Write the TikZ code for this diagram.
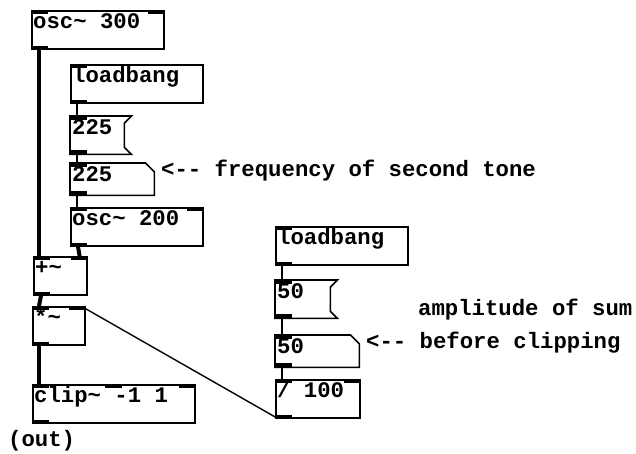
\documentclass[tikz,border=0pt]{standalone}
\usepackage{fontspec}
\setmonofont{Liberation Mono}
\usetikzlibrary{calc}
\definecolor{inkCol}{HTML}{000000}
\definecolor{paperCol}{HTML}{FFFFFF}
\newcommand{\pdfont}{\ttfamily\bfseries\fontsize{22.3}{26}\selectfont}

\begin{document}
\begin{tikzpicture}[
    x=1pt, y=-1pt,
    pdbox/.style={draw=inkCol, line width=1.6pt, anchor=north west, inner sep=0pt, minimum height=38},
    pdhide/.style={anchor=north west, inner sep=0pt, minimum height=38},
    pdline/.style={draw=inkCol, line width=1.6pt, line join=miter},
    pdtext/.style={anchor=base west, inner sep=0pt, font=\pdfont, text=inkCol, xshift=2pt, yshift=-18.5pt},
    comment/.style={anchor=base west, inner sep=0pt, font=\pdfont, text=inkCol},
    port/.style={fill=inkCol},
    cord/.style={draw=inkCol, line width=1.4pt},
    sigcord/.style={draw=inkCol, line width=4pt}
]
\fill[paperCol] (0,0) rectangle (636,454);
\useasboundingbox (0,0) rectangle (636,454);

% --- 1. FIRST OSCILLATOR ---
\node[pdbox, minimum width=132] (osc1) at (31,10) {};
\node[pdtext] (osc1txt) at (osc1.north west) {osc\textasciitilde{} 300};
\fill[port] (osc1.north west) rectangle ++(17,4);
\fill[port] (osc1.north east) rectangle ++(-17,4);
\fill[port] (osc1.south west) rectangle ++(17,-4);

% --- 2. SECOND TONE: loadbang, message, number, oscillator ---
\node[pdbox, minimum width=132] (lb1) at (70,64) {};
\node[pdtext] (lb1txt) at (lb1.north west) {loadbang};
\fill[port] (lb1.north west) rectangle ++(17,4);
\fill[port] (lb1.south west) rectangle ++(17,-4);

\node[pdhide, minimum width=61] (msg1) at (70,116) {};
\draw[pdline] (msg1.north west) -- (msg1.north east) -- ++(-7,7) -- ($(msg1.south east)+(-7,-7)$) -- (msg1.south east) -- (msg1.south west) -- cycle;
\node[pdtext] (msg1txt) at (msg1.north west) {225};
\fill[port] (msg1.north west) rectangle ++(17,4);
\fill[port] (msg1.south west) rectangle ++(17,-4);

\node[pdhide, minimum width=84, minimum height=32] (num1) at (70,163) {};
\draw[pdline] (num1.north west) -- ($(num1.north east)+(-9,0)$) -- ($(num1.north east)+(0,9)$) -- (num1.south east) -- (num1.south west) -- cycle;
\node[pdtext] (num1txt) at (num1.north west) {225};
\fill[port] (num1.north west) rectangle ++(17,4);
\fill[port] (num1.south west) rectangle ++(17,-4);

\node[comment] (freqnote) at (161,177) {<-{}- frequency of second tone};

\node[pdbox, minimum width=132] (osc2) at (70,207) {};
\node[pdtext] (osc2txt) at (osc2.north west) {osc\textasciitilde{} 200};
\fill[port] (osc2.north west) rectangle ++(17,4);
\fill[port] (osc2.north east) rectangle ++(-17,4);
\fill[port] (osc2.south west) rectangle ++(17,-4);

% --- 3. SUM, GAIN, CLIP ---
\node[pdbox, minimum width=53] (add) at (33,256) {};
\node[pdtext] (addtxt) at (add.north west) {+\textasciitilde};
\fill[port] (add.north west) rectangle ++(17,4);
\fill[port] (add.north east) rectangle ++(-17,4);
\fill[port] (add.south west) rectangle ++(17,-4);

\node[pdbox, minimum width=52] (mul) at (32,306) {};
\node[pdtext] (multxt) at (mul.north west) {*\textasciitilde};
\fill[port] (mul.north west) rectangle ++(17,4);
\fill[port] (mul.north east) rectangle ++(-17,4);
\fill[port] (mul.south west) rectangle ++(17,-4);

\node[pdbox, minimum width=162] (clip) at (32,384) {};
\node[pdtext] (cliptxt) at (clip.north west) {clip\textasciitilde{} -1 1};
\fill[port] (clip.north west) rectangle ++(17,4);
\fill[port] ($(clip.north)+(-8.5,0)$) rectangle ++(17,4);
\fill[port] (clip.north east) rectangle ++(-17,4);
\fill[port] (clip.south west) rectangle ++(17,-4);

\node[comment] (outnote) at (8,446) {(out)};

% --- 4. AMPLITUDE CHAIN ---
\node[pdbox, minimum width=132] (lb2) at (275,226) {};
\node[pdtext] (lb2txt) at (lb2.north west) {loadbang};
\fill[port] (lb2.north west) rectangle ++(17,4);
\fill[port] (lb2.south west) rectangle ++(17,-4);

\node[pdhide, minimum width=62] (msg2) at (275,280) {};
\draw[pdline] (msg2.north west) -- (msg2.north east) -- ++(-7,7) -- ($(msg2.south east)+(-7,-7)$) -- (msg2.south east) -- (msg2.south west) -- cycle;
\node[pdtext] (msg2txt) at (msg2.north west) {50};
\fill[port] (msg2.north west) rectangle ++(17,4);
\fill[port] (msg2.south west) rectangle ++(17,-4);

\node[pdhide, minimum width=84, minimum height=32] (num2) at (275,335) {};
\draw[pdline] (num2.north west) -- ($(num2.north east)+(-9,0)$) -- ($(num2.north east)+(0,9)$) -- (num2.south east) -- (num2.south west) -- cycle;
\node[pdtext] (num2txt) at (num2.north west) {50};
\fill[port] (num2.north west) rectangle ++(17,4);
\fill[port] (num2.south west) rectangle ++(17,-4);

\node[comment] (ampnote) at (418,315) {amplitude of sum};
\node[comment] (clipnote) at (366,348) {<-{}- before clipping};

\node[pdbox, minimum width=84] (div) at (275,379) {};
\node[pdtext] (divtxt) at (div.north west) {/ 100};
\fill[port] (div.north west) rectangle ++(17,4);
\fill[port] (div.north east) rectangle ++(-17,4);
\fill[port] (div.south west) rectangle ++(17,-4);

% --- 5. CONNECTIONS ---
\draw[cord] ($(lb1.south west)+(7,0)$) -- ($(msg1.north west)+(7,0)$);
\draw[cord] ($(msg1.south west)+(7,0)$) -- ($(num1.north west)+(7,0)$);
\draw[cord] ($(num1.south west)+(7,0)$) -- ($(osc2.north west)+(7,0)$);
\draw[cord] ($(lb2.south west)+(7,0)$) -- ($(msg2.north west)+(7,0)$);
\draw[cord] ($(msg2.south west)+(7,0)$) -- ($(num2.north west)+(7,0)$);
\draw[cord] ($(num2.south west)+(7,0)$) -- ($(div.north west)+(7,0)$);
\draw[cord] ($(div.south west)+(3,0)$) -- ($(mul.north east)+(-3,1)$);

\draw[sigcord] ($(osc1.south west)+(8,0)$) -- ($(add.north west)+(6,0)$);
\draw[sigcord] ($(osc2.south west)+(8,0)$) -- ($(add.north east)+(-8,0)$);
\draw[sigcord] ($(add.south west)+(8,0)$) -- ($(mul.north west)+(7,0)$);
\draw[sigcord] ($(mul.south west)+(7,0)$) -- ($(clip.north west)+(7,0)$);

\end{tikzpicture}
\end{document}
